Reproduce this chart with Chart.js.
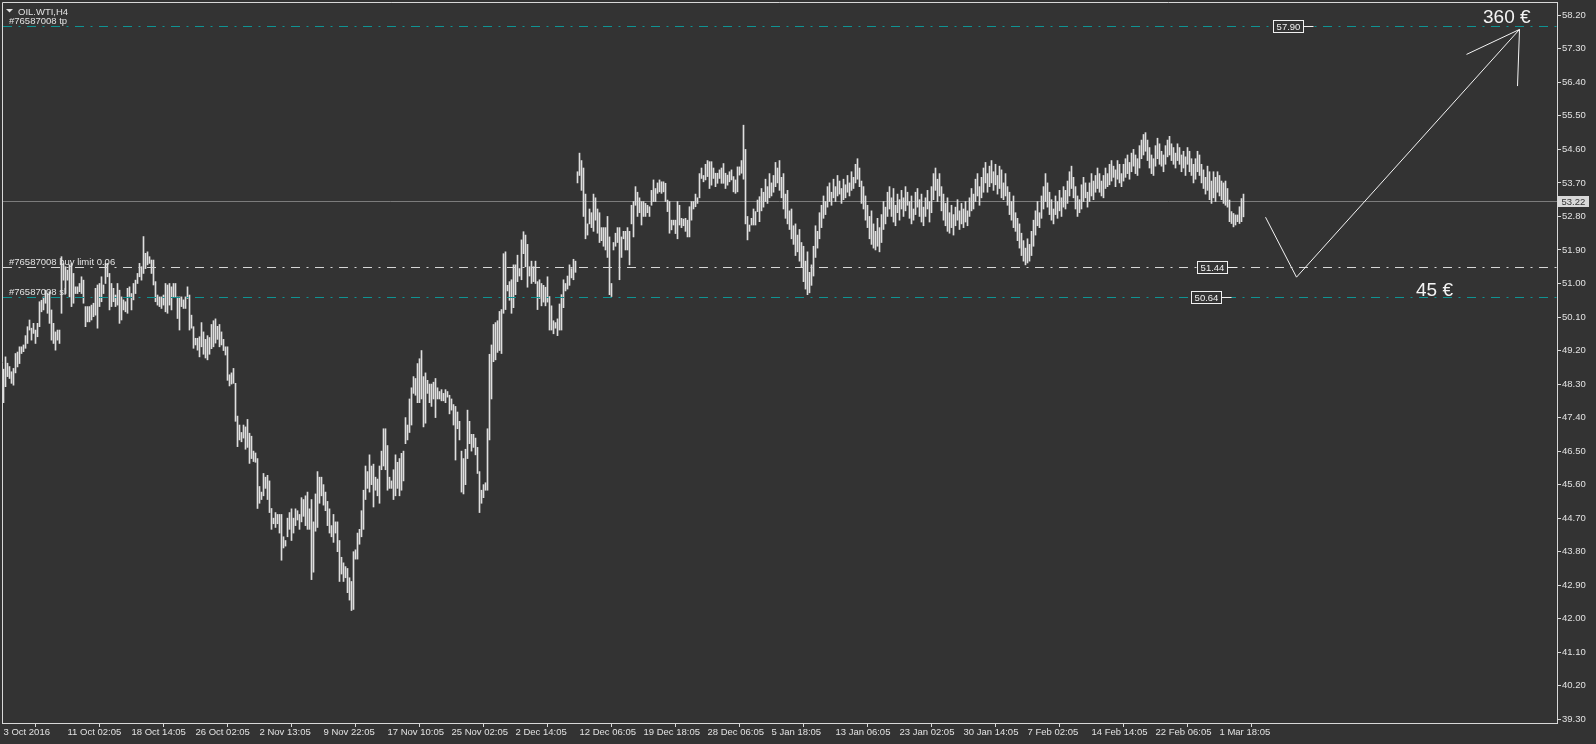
<!DOCTYPE html>
<html><head><meta charset="utf-8">
<script src="https://cdn.jsdelivr.net/npm/chart.js@4.4.0/dist/chart.umd.min.js"></script>
<style>html,body{margin:0;padding:0;background:#333333;overflow:hidden}#wrap{width:1596px;height:744px;position:relative}</style>
</head><body><div id="wrap"><canvas id="c" width="1596" height="744"></canvas></div>
<script>
const symbolTitle = 'OIL.WTI,H4';
const timeLabels = ['3 Oct 2016','11 Oct 02:05','18 Oct 14:05','26 Oct 02:05','2 Nov 13:05','9 Nov 22:05','17 Nov 10:05','25 Nov 02:05','2 Dec 14:05','12 Dec 06:05','19 Dec 18:05','28 Dec 06:05','5 Jan 18:05','13 Jan 06:05','23 Jan 02:05','30 Jan 14:05','7 Feb 02:05','14 Feb 14:05','22 Feb 06:05','1 Mar 18:05'];
const barsPerLabel = 32;
const priceTicks = [39.30,40.20,41.10,42.00,42.90,43.80,44.70,45.60,46.50,47.40,48.30,49.20,50.10,51.00,51.90,52.80,53.70,54.60,55.50,56.40,57.30,58.20];
const highs = [
48.7,49.03,48.86,48.77,48.63,48.72,49.12,49.16,49.3,49.3,49.35,49.6,49.84,50.02,49.8,49.93,49.75,49.93,50.51,50.55,
50.64,50.82,50.73,50.78,50.29,49.93,49.7,49.75,49.75,51.72,51.54,51.45,51.36,51.5,51.54,51.27,50.91,50.91,51.0,51.18,
51.09,50.38,50.38,50.38,50.42,50.47,50.87,50.96,51.0,51.18,50.96,51.54,51.54,51.27,51.0,50.87,50.69,51.0,50.82,50.64,
50.56,50.51,50.87,50.91,50.73,51.0,51.09,51.27,51.54,51.45,52.26,51.81,51.85,51.72,51.63,51.63,51.05,50.69,50.64,50.64,
50.69,51.0,50.96,51.0,50.91,51.0,51.0,50.64,50.64,50.64,50.56,50.64,50.91,50.69,50.15,49.84,49.53,49.53,49.57,49.95,
49.7,49.5,49.6,49.55,49.9,50.0,50.05,49.85,49.9,49.7,49.5,49.3,49.3,48.55,48.6,48.72,48.32,47.44,47.2,47.0,
47.2,47.15,47.35,46.98,46.9,46.5,46.45,46.3,45.55,45.4,45.9,45.8,45.85,45.7,44.96,44.7,44.85,44.8,44.8,44.8,
44.2,44.1,44.7,44.85,44.95,44.7,44.95,44.9,44.8,45.25,45.2,45.3,45.4,44.95,45.2,44.6,45.35,45.95,45.8,45.8,
45.6,45.4,45.15,44.95,44.5,44.8,44.6,44.6,44.1,43.65,43.5,43.4,43.35,43.1,43.0,43.8,43.85,44.3,44.4,44.9,
45.45,46.1,45.95,46.4,46.1,46.15,45.8,45.75,46.1,46.5,47.1,47.1,46.65,45.8,45.7,46.0,46.4,46.2,46.3,46.44,
46.5,47.4,47.2,47.9,48.2,48.5,48.45,48.85,48.98,49.2,48.5,48.6,48.4,48.3,48.3,48.35,48.45,48.2,48.1,48.15,
48.05,48.15,48.1,48.0,47.9,47.75,47.7,47.55,47.3,46.5,46.3,46.55,47.6,47.3,46.95,46.95,46.85,46.6,45.95,45.45,
45.6,45.65,47.1,49.1,49.35,49.9,49.95,50.0,50.25,50.3,51.8,51.85,50.95,51.05,51.1,51.5,51.5,51.76,51.4,52.17,
52.39,52.3,52.05,51.45,51.6,51.45,51.6,51.05,51.1,51.0,50.95,50.9,51.18,50.65,50.4,50.0,49.95,50.05,50.45,50.7,
51.1,51.0,51.2,51.5,51.4,51.65,51.6,54.0,54.5,54.3,54.1,53.4,52.6,53.0,52.9,53.4,53.3,53.0,52.9,52.5,
52.5,52.5,52.8,52.25,51.0,52.1,52.35,52.5,52.5,52.25,52.4,52.4,52.5,52.4,53.1,53.2,53.6,53.45,53.3,53.2,
53.2,53.15,53.1,53.06,53.5,53.78,53.55,53.7,53.78,53.73,53.73,53.69,53.24,53.2,52.7,52.7,52.7,53.2,53.1,52.75,
52.73,52.75,52.7,53.06,53.2,53.2,53.4,53.3,53.95,54.1,53.9,54.2,54.3,54.27,54.27,54.1,53.96,53.96,54.05,54.1,
54.22,53.96,53.91,54.0,54.05,53.87,53.78,54.13,54.13,54.3,55.25,54.6,52.8,52.57,52.75,53.0,52.93,53.24,53.33,53.55,
53.45,53.8,53.6,53.95,53.7,53.9,54.25,54.1,54.3,53.85,53.95,53.4,53.5,52.95,53.0,52.55,52.6,52.3,52.45,52.1,
52.0,51.6,51.85,51.3,51.5,52.0,52.55,52.4,52.9,53.1,53.35,53.2,53.6,53.7,53.45,53.8,53.6,53.9,53.75,53.55,
53.8,53.65,53.9,53.7,54.0,53.85,54.2,54.35,54.1,53.75,53.6,53.35,53.1,52.8,52.95,52.6,52.4,52.75,52.5,52.85,
53.2,53.05,53.45,53.6,53.3,53.55,53.1,53.4,53.25,53.5,53.3,53.6,53.45,53.2,53.35,53.0,53.45,53.55,53.25,53.4,
53.05,53.3,53.5,53.2,53.6,53.95,54.1,53.8,53.95,53.6,53.4,53.15,53.3,52.9,53.1,52.85,53.05,53.25,52.95,53.15,
53.0,53.2,52.95,53.3,53.55,53.4,53.8,53.95,53.6,53.85,54.1,54.25,53.95,54.15,54.3,54.0,54.2,53.9,54.15,54.05,
53.7,53.95,53.6,53.45,53.2,53.35,52.9,52.75,52.6,52.35,52.15,51.95,52.2,52.05,52.4,52.7,52.95,53.2,52.9,53.35,
53.6,53.95,53.7,53.45,53.25,53.0,53.35,53.2,53.5,53.3,53.6,53.5,53.75,54.0,54.15,53.85,53.6,53.35,53.25,53.65,
53.85,53.7,53.45,53.7,53.95,53.75,53.9,54.1,53.95,53.75,53.9,54.1,53.95,54.2,54.3,54.15,54.05,54.3,54.2,53.95,
54.2,54.35,54.45,54.25,54.5,54.6,54.45,54.35,54.7,54.85,55.0,55.05,54.85,54.65,54.45,54.35,54.7,54.9,54.75,54.55,
54.45,54.7,54.85,54.95,54.75,54.65,54.5,54.75,54.65,54.45,54.55,54.4,54.65,54.55,54.35,54.2,54.35,54.55,54.45,54.2,
54.05,53.85,54.15,54.0,53.75,54.0,53.85,54.0,53.9,53.75,53.7,53.75,53.55,53.24,52.93,52.88,52.84,52.84,53.06,53.28,
53.4];
const lows = [
47.8,48.23,48.5,48.45,48.32,48.27,48.6,48.76,48.85,49.12,49.17,49.26,49.39,49.75,49.48,49.66,49.39,49.57,49.84,50.24,
50.29,50.47,50.2,49.93,49.48,49.39,49.21,49.48,49.39,50.2,51.09,50.73,51.09,50.64,50.38,50.47,50.73,50.73,50.78,50.73,
50.47,49.84,49.97,49.97,50.02,50.11,50.15,49.8,50.38,50.51,50.73,51.0,51.18,50.29,50.38,50.51,50.38,50.42,49.93,50.02,
50.29,50.24,50.2,50.65,50.29,50.56,50.73,51.0,51.18,51.09,51.27,51.4,51.5,51.54,51.27,50.96,50.51,50.42,50.38,50.33,
50.42,50.24,50.2,50.42,50.29,50.64,50.64,50.06,49.75,50.38,50.33,50.33,50.6,49.75,49.8,49.26,49.35,49.21,49.03,49.3,
49.1,49.0,48.95,49.1,49.25,49.3,49.4,49.5,49.3,49.35,49.2,49.08,48.4,48.25,48.3,48.32,47.3,46.62,46.8,46.75,
46.85,46.55,46.6,46.17,46.3,46.22,46.2,44.96,45.1,45.2,45.3,45.5,45.2,44.85,44.4,44.55,44.45,44.55,44.3,43.57,
43.9,43.95,44.2,44.4,44.1,44.3,44.5,44.65,44.4,44.6,44.75,44.5,44.4,44.4,43.05,43.25,44.35,44.45,45.1,45.3,
45.05,44.9,44.5,44.3,44.2,44.05,44.3,43.8,43.0,43.2,43.0,43.1,42.7,42.5,42.22,42.25,43.6,43.6,44.0,44.2,
44.4,45.2,45.5,45.4,45.6,45.0,45.45,45.3,45.1,46.0,46.1,46.0,45.45,45.5,45.5,45.2,45.3,45.5,45.3,45.45,
45.7,46.7,46.8,47.0,47.2,48.05,48.0,47.8,47.8,47.9,47.15,47.25,48.05,47.8,47.7,47.9,47.4,47.9,47.9,47.85,
47.85,47.8,47.95,47.5,47.6,47.2,46.26,47.1,46.8,45.4,45.35,45.6,46.3,46.7,46.5,46.6,46.4,45.9,44.85,45.1,
45.25,45.45,45.45,46.8,47.9,48.9,48.95,49.15,49.2,49.12,50.2,50.3,50.8,50.55,50.2,50.35,50.7,51.05,51.2,51.1,
51.8,51.45,50.9,51.2,51.0,51.05,51.0,50.3,50.6,50.4,50.5,50.4,50.5,49.75,49.75,49.65,49.8,49.6,49.75,49.75,
50.35,50.8,50.85,50.95,51.15,51.1,51.3,53.7,53.9,53.5,52.8,52.2,52.3,52.6,52.5,52.4,52.7,52.35,52.1,52.15,
52.0,51.9,51.7,50.7,50.65,51.9,52.0,52.1,51.1,51.7,52.2,51.9,51.9,51.5,52.6,52.25,53.1,52.8,52.9,52.57,
52.8,52.8,52.9,52.8,53.1,53.2,53.2,53.42,53.46,53.42,53.46,53.2,52.93,52.35,52.44,52.57,52.34,52.2,52.57,52.5,
52.55,52.4,52.25,52.25,52.7,53.0,53.06,53.15,53.3,53.82,53.73,53.78,53.87,53.55,53.64,53.82,53.6,53.69,53.82,53.69,
53.69,53.55,53.64,53.73,53.78,53.46,53.42,53.46,53.91,53.96,53.8,52.6,52.17,52.4,52.57,52.57,52.57,52.93,52.66,52.95,
53.05,53.2,53.15,53.3,53.35,53.45,53.6,53.7,53.5,53.3,53.0,52.75,52.6,52.45,52.2,52.05,51.75,51.85,51.6,51.45,
51.05,50.85,50.7,50.75,50.95,51.2,51.7,51.95,52.2,52.5,52.75,52.85,53.05,53.2,53.1,53.3,53.2,53.35,53.4,53.15,
53.25,53.3,53.45,53.35,53.5,53.55,53.7,53.8,53.6,53.15,53.0,52.7,52.5,52.2,52.05,51.95,51.9,52.0,51.85,52.1,
52.45,52.6,52.8,53.0,52.8,52.65,52.55,52.9,52.7,53.0,52.8,52.95,53.1,52.75,52.6,52.7,52.85,53.05,52.8,52.65,
52.55,52.8,53.0,52.65,52.9,53.25,53.5,53.2,53.35,52.95,52.7,52.55,52.4,52.35,52.5,52.3,52.55,52.7,52.45,52.6,
52.5,52.65,52.55,52.8,52.95,53.0,53.2,53.35,53.1,53.3,53.45,53.7,53.45,53.6,53.7,53.5,53.65,53.4,53.55,53.3,
53.25,53.35,53.1,52.85,52.7,52.5,52.4,52.15,51.95,51.75,51.6,51.5,51.55,51.6,51.75,52.0,52.3,52.55,52.5,52.75,
53.0,53.2,53.05,52.85,52.7,52.6,52.85,52.75,52.95,52.8,53.05,53.0,53.15,53.35,53.55,53.3,53.0,52.8,52.9,53.0,
53.2,53.3,53.05,53.2,53.35,53.25,53.45,53.55,53.45,53.35,53.3,53.55,53.6,53.65,53.75,53.85,53.6,53.8,53.7,53.6,
53.75,53.85,53.95,53.8,54.0,54.15,53.95,53.9,54.1,54.35,54.45,54.55,54.3,54.1,53.95,53.9,54.15,54.35,54.2,54.15,
54.0,54.2,54.4,54.45,54.3,54.2,54.1,54.3,54.2,54.0,54.1,53.9,54.2,54.0,53.9,53.7,53.8,54.0,53.9,53.7,
53.55,53.4,53.5,53.25,53.15,53.3,53.2,53.45,53.35,53.25,53.15,53.1,53.05,52.66,52.61,52.52,52.57,52.66,52.61,52.66,
52.79];
const currentPrice = 53.22;
const levelPrices = [57.90, 51.44, 50.64];
const levelNames = ['#76587008 tp', '#76587008 buy limit 0.06', '#76587008 sl'];
const levelColors = ['#0f9393', '#d6d6d6', '#0f9393'];
const levelBoxBars = [634.75, 596.75, 593.75];
const pathBars = [631, 646.5, 758];
const pathPrices = [52.78, 51.17, 57.82];
const headBars = [731.5, 757];
const headPrices = [57.15, 56.30];
const noteTexts = ['360 €', '45 €'];
const noteBars = [739.75, 706.25];
const notePrices = [58.0, 50.67];

const TXT = '#e2e2e2';
const LINE = '#d8d8d8';
const FONT = {family: "'Liberation Sans', Arial, sans-serif", size: 9.5};

const overlay = {
  id: 'overlay',
  beforeDraw(chart) {
    const c = chart.ctx;
    c.save(); c.fillStyle = '#333333'; c.fillRect(0, 0, chart.width, chart.height); c.restore();
  },
  beforeDatasetsDraw(chart) {
    const c = chart.ctx, a = chart.chartArea, y = chart.scales.y;
    c.save();
    c.strokeStyle = '#7c7c7c'; c.lineWidth = 1;
    const py = Math.round(y.getPixelForValue(currentPrice)) + 0.5;
    c.beginPath(); c.moveTo(a.left, py); c.lineTo(a.right, py); c.stroke();
    c.restore();
  },
  afterDatasetsDraw(chart) {
    const c = chart.ctx, a = chart.chartArea, x = chart.scales.x, y = chart.scales.y;
    c.save();
    c.beginPath(); c.rect(a.left, a.top, a.right - a.left, a.bottom - a.top); c.clip();
    levelPrices.forEach((p, k) => {
      const py = Math.round(y.getPixelForValue(p)) + 0.5;
      c.strokeStyle = levelColors[k]; c.lineWidth = 1;
      c.setLineDash([9, 6.5, 2, 6.5]); c.lineDashOffset = 0;
      c.beginPath(); c.moveTo(a.left + 1, py); c.lineTo(a.right, py); c.stroke();
      c.setLineDash([]);
      c.fillStyle = TXT; c.font = FONT.size + 'px ' + FONT.family;
      c.textAlign = 'left'; c.textBaseline = 'alphabetic';
      c.fillText(levelNames[k], 9, py - 2.5);
      const bx = Math.round(x.getPixelForValue(levelBoxBars[k]));
      c.fillStyle = '#333333';
      c.fillRect(bx, py - 6, 30, 12);
      c.strokeStyle = '#f0f0f0';
      c.strokeRect(bx + 0.5, py - 6, 30, 12);
      c.beginPath(); c.moveTo(bx + 30.5, py); c.lineTo(bx + 40.5, py); c.stroke();
      c.fillStyle = '#f0f0f0'; c.textAlign = 'center'; c.textBaseline = 'middle';
      c.fillText(p.toFixed(2), bx + 15.5, py + 0.5);
    });
    c.strokeStyle = '#f4f4f4'; c.lineWidth = 1;
    c.beginPath();
    pathBars.forEach((b, k) => {
      const px = x.getPixelForValue(b), py = y.getPixelForValue(pathPrices[k]);
      if (k === 0) c.moveTo(px, py); else c.lineTo(px, py);
    });
    c.stroke();
    const tx = x.getPixelForValue(pathBars[2]), ty = y.getPixelForValue(pathPrices[2]);
    headBars.forEach((b, k) => {
      c.beginPath(); c.moveTo(tx, ty); c.lineTo(x.getPixelForValue(b), y.getPixelForValue(headPrices[k])); c.stroke();
    });
    c.fillStyle = '#f4f4f4'; c.font = "19px 'Liberation Sans', Arial, sans-serif";
    c.textAlign = 'left'; c.textBaseline = 'alphabetic';
    noteTexts.forEach((t, k) => c.fillText(t, x.getPixelForValue(noteBars[k]), y.getPixelForValue(notePrices[k])));
    c.restore();
  },
  afterDraw(chart) {
    const c = chart.ctx, a = chart.chartArea, y = chart.scales.y;
    c.save();
    c.strokeStyle = LINE; c.lineWidth = 1;
    c.beginPath();
    c.moveTo(a.left + 0.5, a.bottom); c.lineTo(a.left + 0.5, a.top + 0.5); c.lineTo(a.right, a.top + 0.5);
    c.stroke();
    c.fillStyle = TXT; c.font = FONT.size + 'px ' + FONT.family;
    c.textAlign = 'left'; c.textBaseline = 'alphabetic';
    c.fillText(symbolTitle, 18, 14.5);
    c.beginPath(); c.moveTo(6, 9); c.lineTo(13, 9); c.lineTo(9.5, 12.5); c.closePath(); c.fill();
    const py = Math.round(y.getPixelForValue(currentPrice)) + 0.5;
    c.fillStyle = '#d9d9d9';
    c.fillRect(a.right + 1, py - 5.5, 31, 11);
    c.fillStyle = '#333333'; c.textBaseline = 'middle';
    c.fillText(currentPrice.toFixed(2), a.right + 4.5, py + 0.5);
    c.restore();
  }
};

const bars = highs.map((h, i) => ({x: i, y: [lows[i], h]}));

new Chart(document.getElementById('c'), {
  type: 'bar',
  data: {datasets: [{data: bars, backgroundColor: '#dedede', borderWidth: 0, barThickness: 1, grouped: false}]},
  options: {
    responsive: false, animation: false, devicePixelRatio: 1,
    layout: {padding: {left: 2, top: 2, right: 0, bottom: 0}},
    plugins: {legend: {display: false}, tooltip: {enabled: false}},
    scales: {
      x: {
        type: 'linear', min: -0.75, max: 776.75, offset: false,
        afterBuildTicks(s) { s.ticks = timeLabels.map((_, k) => ({value: k * barsPerLabel})); },
        afterFit(s) { s.height = 21; s.paddingLeft = 0; s.paddingRight = 0; s.paddingTop = 0; s.paddingBottom = 0; },
        ticks: {autoSkip: false, maxRotation: 0, minRotation: 0, align: 'start', color: TXT, font: FONT, padding: 0,
          callback: (v, idx) => timeLabels[idx]},
        grid: {drawOnChartArea: false, drawTicks: true, tickLength: 4, color: LINE},
        border: {display: true, color: LINE}
      },
      y: {
        position: 'right', min: 39.2007, max: 58.557,
        afterBuildTicks(s) { s.ticks = priceTicks.map(v => ({value: v})); },
        afterFit(s) { s.width = 39; s.paddingTop = 0; s.paddingBottom = 0; s.paddingLeft = 0; s.paddingRight = 0; },
        ticks: {color: TXT, font: FONT, padding: 1, callback: v => Number(v).toFixed(2)},
        grid: {drawOnChartArea: false, drawTicks: true, tickLength: 4, color: LINE},
        border: {display: true, color: LINE}
      }
    }
  },
  plugins: [overlay]
});
</script>
</body></html>
